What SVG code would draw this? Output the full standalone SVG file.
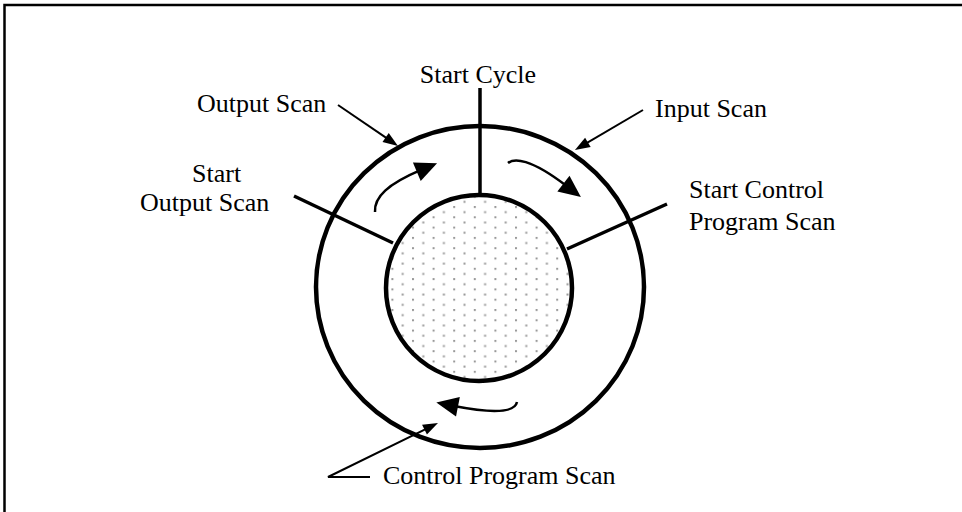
<svg xmlns="http://www.w3.org/2000/svg" width="962" height="512" viewBox="0 0 962 512">
<defs>
<style>
text{font-family:"Liberation Serif","Times New Roman",serif;font-size:26px;fill:#000}
.ring{fill:none;stroke:#000;stroke-width:4.5}
.radial{stroke:#000;stroke-width:3.5;fill:none}
.ptr{stroke:#000;stroke-width:2;fill:none}
.flow{stroke:#000;stroke-width:2.5;fill:none}
</style>
<pattern id="dots" patternUnits="userSpaceOnUse" width="20.6" height="10.3">
<rect x="0" y="0" width="2" height="2" fill="#999"/>
<rect x="10.3" y="5.15" width="2" height="2" fill="#999"/>
</pattern>
<marker id="hs" markerUnits="userSpaceOnUse" markerWidth="16" markerHeight="12" refX="3" refY="5.5" orient="auto" overflow="visible">
<path d="M0,0 L15,5.5 L0,11 Z" fill="#000"/>
</marker>
<marker id="hl" markerUnits="userSpaceOnUse" markerWidth="23" markerHeight="21" refX="4" refY="10" orient="auto" overflow="visible">
<path d="M0,0 L22,10 L0,20 Z" fill="#000"/>
</marker>
</defs>
<rect width="962" height="512" fill="#fff"/>
<path d="M4.5,512 V5 H962" fill="none" stroke="#000" stroke-width="2.5"/>

<g id="outer-ring">
<ellipse class="ring" cx="480" cy="287" rx="164" ry="161"/>
</g>
<g id="core">
<circle cx="479" cy="288" r="93" fill="url(#dots)"/>
<circle class="ring" cx="479" cy="288" r="93"/>
</g>

<g id="connectors">
<line class="radial" x1="480" y1="88" x2="480" y2="195"/>
<line class="radial" x1="294" y1="196" x2="393" y2="243"/>
<line class="radial" x1="667" y1="204" x2="567" y2="249"/>
<line class="ptr" x1="338" y1="105" x2="388.1" y2="139.2" marker-end="url(#hs)"/>
<line class="ptr" x1="643" y1="110" x2="585.3" y2="143.9" marker-end="url(#hs)"/>
<polyline class="ptr" points="370,477 328,477 427.2,428.3" marker-end="url(#hs)"/>
<path class="flow" d="M375,212 C374,197 388,184 420.5,170.2" marker-end="url(#hl)"/>
<path class="flow" d="M508,163 C514,158 530,158 566.6,186" marker-end="url(#hl)"/>
<path class="flow" d="M517,402 C515,412 495,414 454,406" marker-end="url(#hl)"/>
</g>

<g id="label-start-cycle"><text x="478" y="83" text-anchor="middle">Start Cycle</text></g>
<g id="label-output-scan"><text x="197" y="112">Output Scan</text></g>
<g id="label-input-scan"><text x="655" y="117">Input Scan</text></g>
<g id="label-start-output-scan"><text x="192" y="182">Start</text><text x="140" y="211">Output Scan</text></g>
<g id="label-start-control"><text x="689" y="198">Start Control</text><text x="689" y="230">Program Scan</text></g>
<g id="label-control-program-scan"><text x="383" y="484">Control Program Scan</text></g>
</svg>
